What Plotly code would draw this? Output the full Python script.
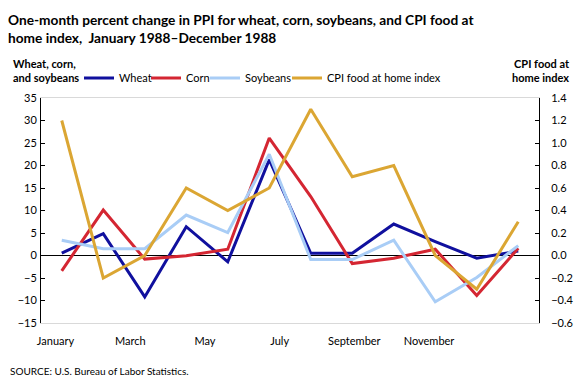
import plotly.graph_objects as go

months = ["January", "February", "March", "April", "May", "June", "July",
          "August", "September", "October", "November", "December"]
wheat = [0.55, 4.85, -9.2, 6.4, -1.4, 21.3, 0.5, 0.5, 7.0, 3.1, -0.6, 1.0]
corn = [-3.4, 10.1, -0.8, -0.05, 1.4, 26.1, 13.1, -1.8, -0.6, 1.4, -8.9, 1.6]
soybeans = [3.4, 1.5, 1.5, 9.0, 5.1, 22.5, -0.9, -0.9, 3.4, -10.3, -4.9, 2.2]
cpi_food_home = [1.2, -0.2, 0.0, 0.6, 0.4, 0.6, 1.3, 0.7, 0.8, 0.0, -0.3, 0.3]

tick_labels = ["January", "March", "May", "July", "September", "November"]
tick_offset = -0.15   # Excel placed the labels slightly left of the points
tick_step = 1.8

FONT = "Lato"
W, H = 580, 383
x = list(range(len(months)))

fig = go.Figure()
series = [("Wheat", wheat, "#10109E", "y", 79),
          ("Corn", corn, "#D42632", "y", 146),
          ("Soybeans", soybeans, "#A9CDF6", "y", 205),
          ("CPI food at home index", cpi_food_home, "#DBA633", "y2", 287)]
legend_keys = ["legend", "legend2", "legend3", "legend4"]
legends = {}
for (name, vals, color, ax, lx), key in zip(series, legend_keys):
    fig.add_trace(go.Scatter(x=x, y=vals, name=name, mode="lines", yaxis=ax,
                             line=dict(color=color, width=3), legend=key,
                             customdata=months,
                             hovertemplate="%{customdata}: %{y}<extra>" + name + "</extra>"))
    legends[key] = dict(orientation="h", xref="container", yref="container",
                        x=lx / W, xanchor="left", y=1 - 78 / H, yanchor="middle",
                        font=dict(size=11, family=FONT), itemwidth=30,
                        bgcolor="rgba(0,0,0,0)")

fig.update_layout(
    width=W, height=H,
    margin=dict(l=41, r=41, t=98, b=60, autoexpand=False),
    paper_bgcolor="white", plot_bgcolor="white",
    font=dict(family=FONT, size=11, color="#000000"),
    showlegend=True,
    xaxis=dict(range=[-0.5, 11.5], tickmode="array", automargin=False,
               tickvals=[tick_offset + tick_step * i for i in range(len(tick_labels))],
               ticktext=tick_labels, ticks="", showgrid=False, zeroline=False,
               showline=True, linecolor="#D9D9D9", linewidth=1, mirror=True,
               ticklabelstandoff=8, tickfont=dict(size=11)),
    yaxis=dict(range=[-15, 35], dtick=5, ticks="inside", ticklen=4, tickcolor="black",
               automargin=False,
               showline=True, linecolor="black", linewidth=1, showgrid=False,
               zeroline=True, zerolinecolor="black", zerolinewidth=1,
               ticklabelstandoff=1, tickfont=dict(size=11)),
    yaxis2=dict(range=[-0.6, 1.4], dtick=0.2, tickformat=".1f", overlaying="y", side="right",
                ticks="inside", ticklen=4, tickcolor="black", automargin=False,
                showline=True, linecolor="black", linewidth=1, showgrid=False,
                zeroline=False, ticklabelstandoff=9, tickfont=dict(size=11)),
    title=dict(text="One-month percent change in PPI for wheat, corn, soybeans, and CPI food at<br>home index,  January 1988\u2013December 1988",
               x=8 / W, xanchor="left", y=1 - 25 / H, yanchor="middle",
               xref="container", yref="container",
               font=dict(family=FONT, size=13.7, color="#000000", weight="bold")),
    **legends,
)

fig.add_annotation(text="<b>Wheat, corn,<br>and soybeans</b>", xref="paper", yref="paper",
                   x=-30/498, xanchor="left", y=(323-71)/225, yanchor="middle",
                   showarrow=False, align="left", font=dict(size=11, family=FONT))
fig.add_annotation(text="<b>CPI food at<br>home index</b>", xref="paper", yref="paper",
                   x=1 + 33/498, xanchor="right", y=(323-71)/225, yanchor="middle",
                   showarrow=False, align="right", font=dict(size=11, family=FONT))
fig.add_annotation(text="SOURCE: U.S. Bureau of Labor Statistics.", xref="paper", yref="paper",
                   x=-33/498, xanchor="left", y=(323-371)/225, yanchor="middle",
                   showarrow=False, align="left", font=dict(size=10, family=FONT))

fig.write_html("out.html", config={"displayModeBar": False},
               post_script="document.body.style.margin='0';")
